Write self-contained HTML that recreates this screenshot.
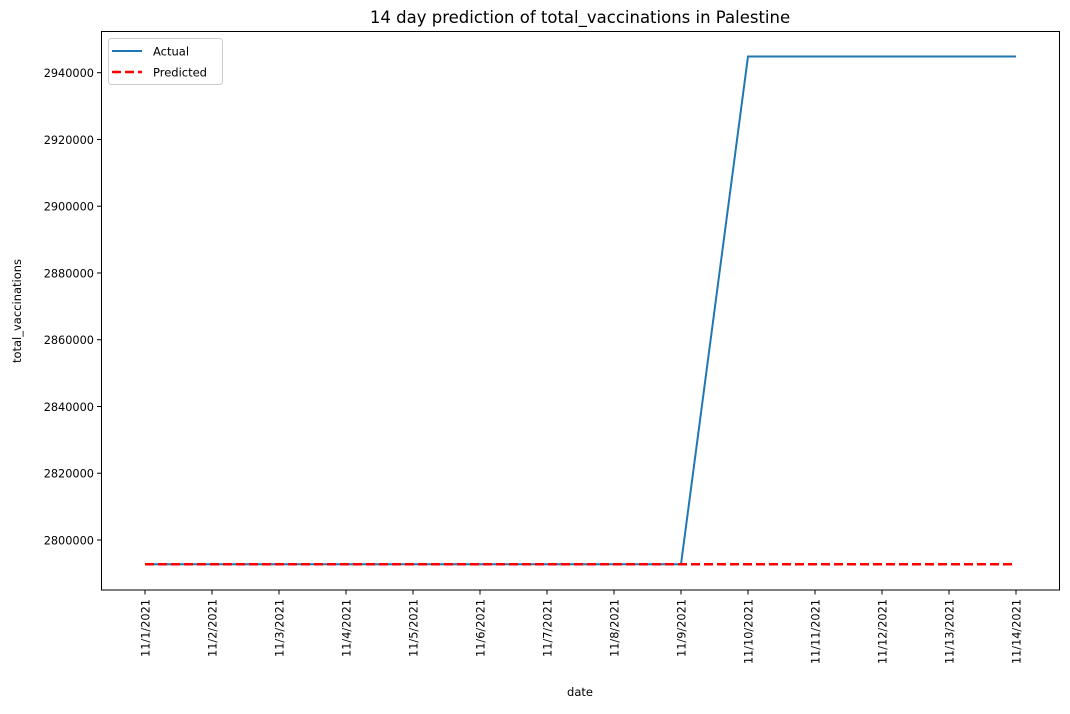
<!DOCTYPE html>
<html><head><meta charset="utf-8"><style>
body{margin:0;background:#fff;}
svg text{font-family:"DejaVu Sans","Liberation Sans",sans-serif;fill:#000;}
</style></head><body>
<svg width="1070" height="709" xmlns="http://www.w3.org/2000/svg">
<text x="580" y="23" font-size="16.5" text-anchor="middle">14 day prediction of total_vaccinations in Palestine</text>
<g id="yticks"></g>
<g id="xticks"></g>
<g id="marks"></g>
<rect x="101.5" y="31.5" width="958" height="558.5" fill="none" stroke="#000" stroke-width="1"/>
<text x="580" y="696" font-size="11.5" text-anchor="middle">date</text>
<text transform="translate(21,311) rotate(-90)" font-size="11.5" text-anchor="middle">total_vaccinations</text>
<g>
<rect x="108.5" y="38.5" width="114" height="46" rx="3" fill="#fff" stroke="#ccc"/>
<line x1="112" y1="51" x2="142" y2="51" stroke="#1f77b4" stroke-width="2"/>
<text x="153" y="55.5" font-size="11.5">Actual</text>
<line x1="112" y1="72" x2="142" y2="72" stroke="#ff0000" stroke-width="2.5" stroke-dasharray="9,4"/>
<text x="153" y="76.5" font-size="11.5">Predicted</text>
</g>
</svg>
<script>
const dates=["11/1/2021","11/2/2021","11/3/2021","11/4/2021","11/5/2021","11/6/2021","11/7/2021","11/8/2021","11/9/2021","11/10/2021","11/11/2021","11/12/2021","11/13/2021","11/14/2021"];
const actual=[2792720,2792720,2792720,2792720,2792720,2792720,2792720,2792720,2792720,2944850,2944850,2944850,2944850,2944850];
const predicted=[2792720,2792720,2792720,2792720,2792720,2792720,2792720,2792720,2792720,2792720,2792720,2792720,2792720,2792720];
const yTicks=[2800000,2820000,2840000,2860000,2880000,2900000,2920000,2940000];
const NS="http://www.w3.org/2000/svg";
function xs(i){return 145+i*(1016-145)/(dates.length-1);}
function ys(v){return 540-(v-2800000)*(540-72.7)/140000;}
function mk(t,a,p){const e=document.createElementNS(NS,t);for(const k in a)e.setAttribute(k,a[k]);p.appendChild(e);return e;}
const yg=document.getElementById('yticks'),xg=document.getElementById('xticks'),mg=document.getElementById('marks');
yTicks.forEach(v=>{const y=ys(v);
const l=mk('line',{x1:97,x2:101.5,y1:y,y2:y,stroke:'#000'},yg);


const t=mk('text',{x:94,y:y+4.3,'font-size':11.3,'text-anchor':'end'},yg);t.textContent=v;

});
dates.forEach((d,i)=>{const x=xs(i);
const l=mk('line',{x1:x,x2:x,y1:590,y2:594.5,stroke:'#000'},xg);


const t=mk('text',{transform:`translate(${x+4.3},599) rotate(-90)`,'font-size':11.3,'text-anchor':'end'},xg);t.textContent=d;

});
const pa=mk('polyline',{points:actual.map((v,i)=>xs(i)+','+ys(v)).join(' '),fill:'none',stroke:'#1f77b4','stroke-width':2},mg);


const pp=mk('polyline',{points:predicted.map((v,i)=>xs(i)+','+ys(v)).join(' '),fill:'none',stroke:'#ff0000','stroke-width':2.5,'stroke-dasharray':'9,4'},mg);


</script>
</body></html>
